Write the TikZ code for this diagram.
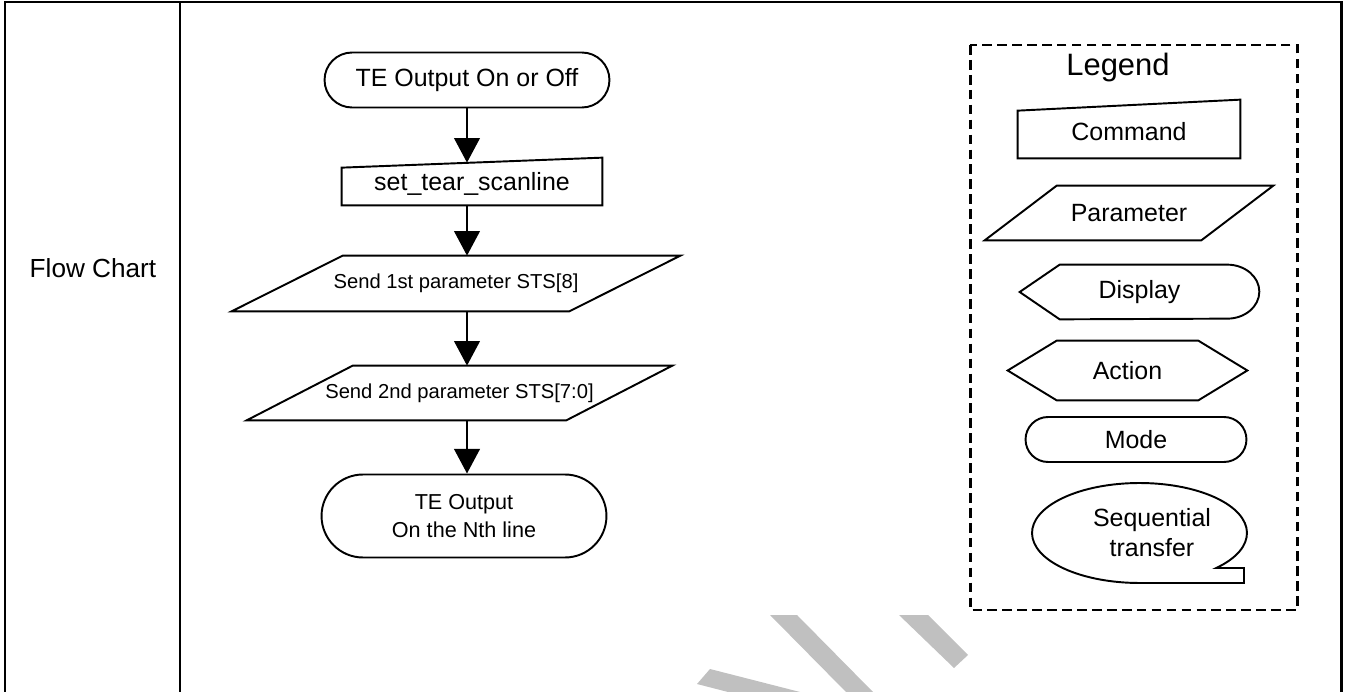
\documentclass[tikz,border=0pt]{standalone}
\usepackage{fontspec}
\setmainfont{Liberation Sans}
\usepackage{tikz}
\usetikzlibrary{arrows.meta,calc,shapes.misc}
\definecolor{wmgrey}{HTML}{C0C0C0}

\begin{document}
\begin{tikzpicture}[x=0.02cm,y=-0.02cm,
    every node/.style={font=\fontsize{14.2}{17}\selectfont},
    shape line/.style={line width=1.1pt,line join=miter},
    flowbox/.style={inner sep=0pt},
    modebox/.style={rounded rectangle,draw,line width=1.1pt,inner xsep=2pt},
    smalltext/.style={font=\fontsize{11.5}{14}\selectfont},
    flow/.style={line width=1.5pt,-{Triangle[width=14.5pt,length=14pt]}},
    tableline/.style={line width=1.7pt},
    legendbox/.style={line width=1.7pt,dash pattern=on 5.5pt off 3pt}]
    \useasboundingbox (0,0) rectangle (1346,692);

    % watermark
    \fill[wmgrey] (770,615) -- (797,615) -- (873,692) -- (846,692) -- cycle;
    \fill[wmgrey] (710,669) -- (800,692) -- (728,692) -- (697,684) -- cycle;
    \fill[wmgrey] (899,615) -- (928,615) -- (968,655) -- (954,668) -- cycle;

    % table
    \draw[tableline] (5,692) -- (5,2) -- (1341,2) -- (1341,692);
    \draw[tableline] (180,2) -- (180,692);
    \node[font=\fontsize{14.9}{18}\selectfont] (rowlbl) at (93,268) {Flow Chart};

    % flow chart
    \node[modebox,minimum width=5.84cm,minimum height=1.1cm] (start) at (467,80) {TE Output On or Off};
    \node[flowbox,minimum width=5.2cm,minimum height=0.84cm] (cmd) at (472,184) {set\_tear\_scanline};
    \node[flowbox,smalltext,minimum width=8.96cm,minimum height=1.1cm] (par1) at (456,283.5) {Send 1st parameter STS[8]};
    \node[flowbox,smalltext,minimum width=8.5cm,minimum height=1.08cm] (par2) at (459.5,393) {Send 2nd parameter STS[7:0]};
    \node[modebox,align=center,font=\fontsize{12.3}{15.9}\selectfont,minimum width=5.84cm,minimum height=1.66cm] (stop) at (464,516) {TE Output\\On the Nth line};

    \draw[shape line] (cmd.south west) -- ($(cmd.north west)+(0,5)$) -- ($(cmd.north east)+(0,-5)$) -- (cmd.south east) -- cycle;
    \draw[shape line] ($(par1.north west)+(111,0)$) -- (par1.north east) -- ($(par1.south east)+(-111,0)$) -- (par1.south west) -- cycle;
    \draw[shape line] ($(par2.north west)+(106,0)$) -- (par2.north east) -- ($(par2.south east)+(-106,0)$) -- (par2.south west) -- cycle;

    \draw[flow] (start.south) -- (start.south |- cmd.north);
    \draw[flow] (cmd.south -| start) -- (start |- par1.north);
    \draw[flow] (par1.south -| start) -- (start |- par2.north);
    \draw[flow] (par2.south -| start) -- (start |- stop.north);

    % legend
    \draw[legendbox] (970,45) rectangle (1297,610);
    \node[font=\fontsize{17.6}{21}\selectfont] (legend) at (1118,68) {Legend};

    \node[flowbox,minimum width=4.44cm,minimum height=1.04cm] (lcmd) at (1129,132) {Command};
    \draw[shape line] (lcmd.south west) -- ($(lcmd.north west)+(0,5)$) -- ($(lcmd.north east)+(0,-6)$) -- (lcmd.south east) -- cycle;

    \node[flowbox,minimum width=5.76cm,minimum height=1.08cm] (lpar) at (1129,213) {Parameter};
    \draw[shape line] ($(lpar.north west)+(72,0)$) -- (lpar.north east) -- ($(lpar.south east)+(-72,0)$) -- (lpar.south west) -- cycle;

    \node[flowbox,minimum width=4.78cm,minimum height=1.08cm] (ldisp) at (1139.5,292) {Display};
    \draw[shape line] (ldisp.west) -- ($(ldisp.north west)+(40,0)$) -- ($(ldisp.north east)+(-32,0)$)
        arc[start angle=90,end angle=-90,x radius=0.64cm,y radius=0.54cm] -- ($(ldisp.south west)+(40,0)$) -- cycle;

    \node[flowbox,minimum width=4.78cm,minimum height=1.18cm] (lact) at (1127.5,370.5) {Action};
    \draw[shape line] (lact.west) -- ($(lact.north west)+(49,0)$) -- ($(lact.north east)+(-49,0)$) -- (lact.east)
        -- ($(lact.south east)+(-49,0)$) -- ($(lact.south west)+(49,0)$) -- cycle;

    \node[modebox,minimum width=4.56cm,minimum height=0.9cm] (lmode) at (1136,439.5) {Mode};

    \coordinate (seqc) at (1139.5,533);
    \node[align=center] (lseq) at (1152,533) {Sequential\\transfer};
    \draw[shape line] ($(seqc)+(-44.4:2.15cm and 1cm)$) arc[start angle=-44.4,end angle=270,x radius=2.15cm,y radius=1cm]
        -- (1244,583) -- (1244,568) -- cycle;
\end{tikzpicture}
\end{document}
